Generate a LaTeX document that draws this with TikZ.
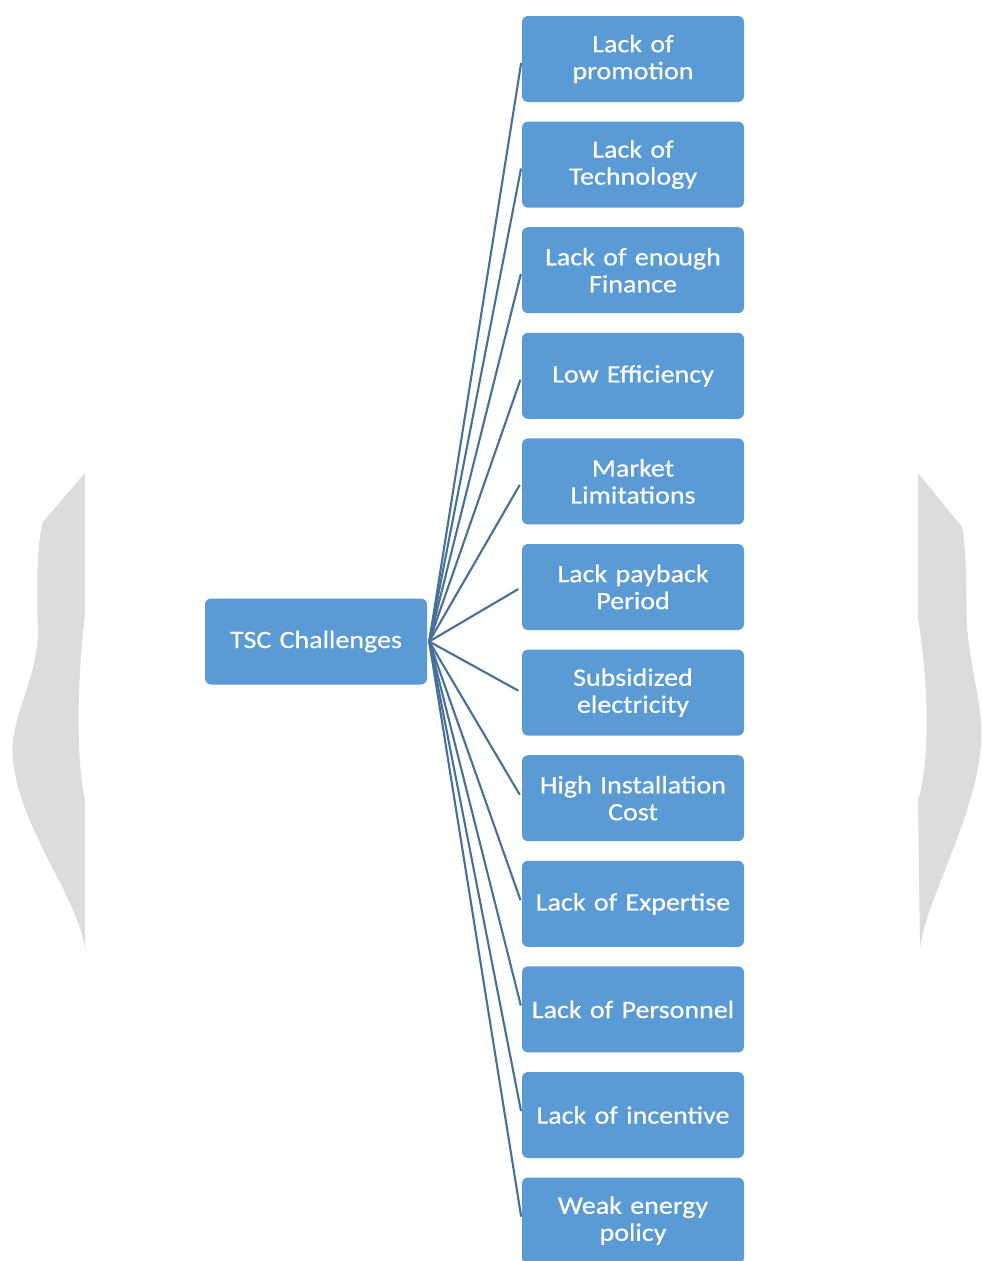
\documentclass[tikz,border=0pt]{standalone}
\usepackage{fontspec}
\setmainfont[FakeStretch=1.12,FakeBold=0.4]{Carlito}
\definecolor{boxblue}{HTML}{5B9BD5}
\definecolor{linkblue}{HTML}{46709A}
\definecolor{shadegray}{HTML}{DCDCDC}
\tikzset{
  item/.style={rectangle, rounded corners=6pt, fill=boxblue, draw=none,
    minimum width=222pt, minimum height=86pt, text width=218pt, align=center,
    text=white, inner sep=2pt, font=\fontsize{25}{27}\selectfont},
  link/.style={draw=linkblue, line width=2.1pt, shorten >=4pt},
  shade/.style={fill=shadegray, draw=none}
}
\begin{document}
\begin{tikzpicture}[x=1pt,y=-1pt]
\useasboundingbox (0,0) rectangle (982,1261);
% side gray shapes
\path[shade] (85,473) -- (43,522) .. controls (36,545) and (37,600) .. (38,630)
  .. controls (38,680) and (8,720) .. (13,760)
  .. controls (20,830) and (80,900) .. (85,950)
  -- (85,800) .. controls (78,770) and (75,700) .. (85,615) -- cycle;
\path[shade] (918,473) -- (962,527) .. controls (967,550) and (966,600) .. (967,627)
  .. controls (972,680) and (984,710) .. (981,745)
  .. controls (975,820) and (925,900) .. (920,950)
  -- (918,800) .. controls (928,770) and (931,700) .. (918,618) -- cycle;
% center node
\node[item] (c) at (316,641.5) {TSC Challenges};
% items
\node[item] (b1) at (633,59) {Lack of\\promotion};
\node[item] (b2) at (633,164.6) {Lack of\\Technology};
\node[item] (b3) at (633,270.2) {Lack of enough\\Finance};
\node[item] (b4) at (633,375.8) {Low Efficiency};
\node[item] (b5) at (633,481.4) {Market\\Limitations};
\node[item] (b6) at (633,587) {Lack payback\\Period};
\node[item] (b7) at (633,692.6) {Subsidized\\electricity};
\node[item] (b8) at (633,798.2) {High Installation\\Cost};
\node[item] (b9) at (633,903.8) {Lack of Expertise};
\node[item] (b10) at (633,1009.4) {Lack of Personnel};
\node[item] (b11) at (633,1115) {Lack of incentive};
\node[item] (b12) at (633,1220.6) {Weak energy\\policy};
\foreach \i in {1,...,12}{
  \draw[link] ([xshift=2pt]c.east) -- (b\i.west);
}
\end{tikzpicture}
\end{document}
